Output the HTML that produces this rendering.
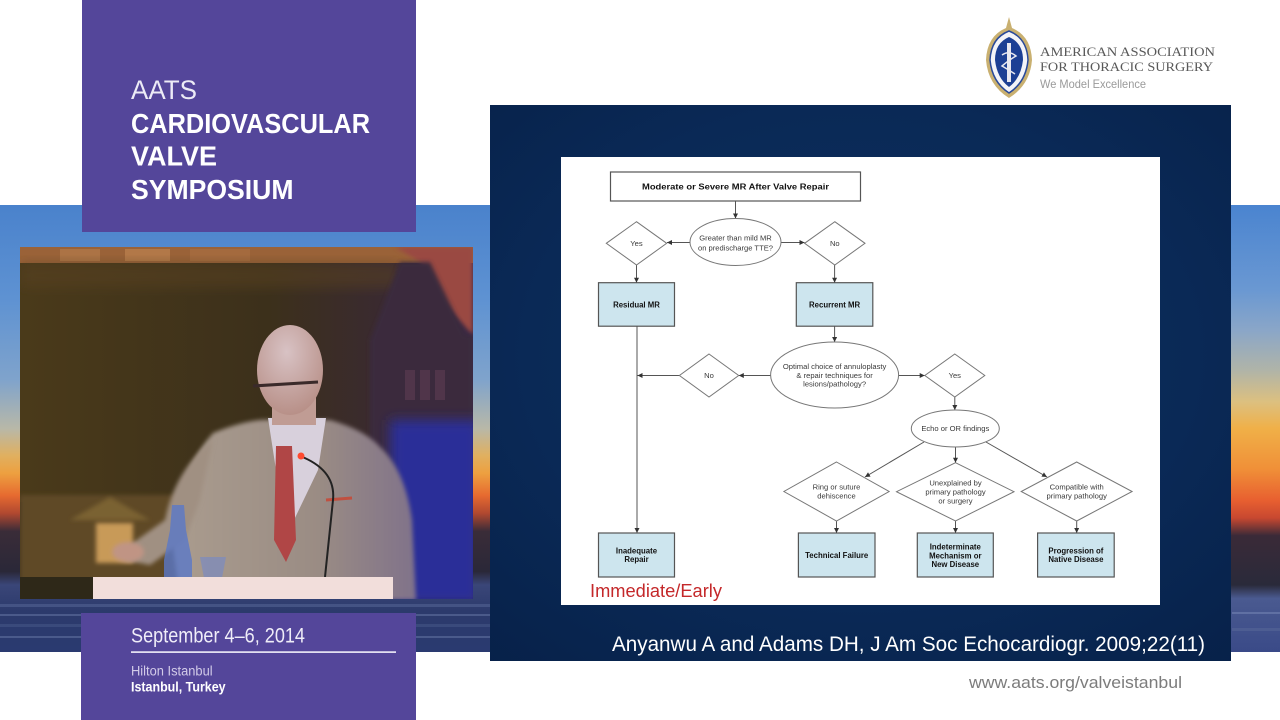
<!DOCTYPE html>
<html><head><meta charset="utf-8">
<style>
html,body{margin:0;padding:0;background:#fff;}
svg{display:block;}
.fc{font-family:"Liberation Sans",Arial,sans-serif;}
</style></head><body>
<svg width="1280" height="720" viewBox="0 0 1280 720" xmlns="http://www.w3.org/2000/svg">
<defs>
 <linearGradient id="skyL" gradientUnits="userSpaceOnUse" x1="0" y1="205" x2="0" y2="652">
  <stop offset="0" stop-color="#4a82cc"/>
  <stop offset="0.21" stop-color="#5e92d2"/>
  <stop offset="0.39" stop-color="#7fa3cc"/>
  <stop offset="0.50" stop-color="#b8b8a8"/>
  <stop offset="0.56" stop-color="#e0b060"/>
  <stop offset="0.60" stop-color="#eda040"/>
  <stop offset="0.65" stop-color="#e66a30"/>
  <stop offset="0.69" stop-color="#b04830"/>
  <stop offset="0.73" stop-color="#3a2c38"/>
  <stop offset="0.82" stop-color="#2a2838"/>
  <stop offset="0.85" stop-color="#3a4678"/>
  <stop offset="0.91" stop-color="#2c3a6c"/>
  <stop offset="1" stop-color="#2a3a70"/>
 </linearGradient>
 <linearGradient id="skyR" gradientUnits="userSpaceOnUse" x1="0" y1="205" x2="0" y2="652">
  <stop offset="0" stop-color="#4a84d0"/>
  <stop offset="0.19" stop-color="#6a98d2"/>
  <stop offset="0.28" stop-color="#8aa6c8"/>
  <stop offset="0.37" stop-color="#b0b4a8"/>
  <stop offset="0.44" stop-color="#dcc080"/>
  <stop offset="0.50" stop-color="#f0b048"/>
  <stop offset="0.59" stop-color="#f09038"/>
  <stop offset="0.66" stop-color="#e86030"/>
  <stop offset="0.70" stop-color="#c84830"/>
  <stop offset="0.74" stop-color="#3a2a38"/>
  <stop offset="0.85" stop-color="#2a2a3a"/>
  <stop offset="0.88" stop-color="#4a5a90"/>
  <stop offset="1" stop-color="#3a4a88"/>
 </linearGradient>
 <radialGradient id="navy" cx="0.5" cy="0.45" r="0.75">
  <stop offset="0" stop-color="#0e315f"/>
  <stop offset="0.6" stop-color="#0a2956"/>
  <stop offset="1" stop-color="#072149"/>
 </radialGradient>
 <linearGradient id="vidbg" x1="0" y1="0" x2="1" y2="0">
  <stop offset="0" stop-color="#4a3a1a"/>
  <stop offset="0.55" stop-color="#3c301b"/>
  <stop offset="0.8" stop-color="#3a2a30"/>
  <stop offset="1" stop-color="#3a2846"/>
 </linearGradient>
 <linearGradient id="suit" x1="0" y1="0" x2="1" y2="0">
  <stop offset="0" stop-color="#aa9c8e"/>
  <stop offset="0.6" stop-color="#9a8c84"/>
  <stop offset="1" stop-color="#80728a"/>
 </linearGradient>
 <radialGradient id="headg" cx="0.45" cy="0.3" r="0.7">
  <stop offset="0" stop-color="#d8c2c4"/>
  <stop offset="1" stop-color="#b89088"/>
 </radialGradient>
 <marker id="ah" viewBox="0 0 10 10" refX="10" refY="5" markerWidth="5" markerHeight="5" orient="auto" markerUnits="userSpaceOnUse">
  <path d="M0,0 L10,5 L0,10 z" fill="#333"/>
 </marker>
 <clipPath id="vid"><rect x="20" y="247" width="453" height="352"/></clipPath>
 <filter id="b2" x="-20%" y="-20%" width="140%" height="140%"><feGaussianBlur stdDeviation="2"/></filter>
 <filter id="b6" x="-30%" y="-30%" width="160%" height="160%"><feGaussianBlur stdDeviation="6"/></filter>
</defs>

<!-- background -->
<rect width="1280" height="720" fill="#ffffff"/>
<rect x="0" y="205" width="640" height="447" fill="url(#skyL)"/>
<rect x="640" y="205" width="640" height="447" fill="url(#skyR)"/>
<g opacity="0.5">
 <rect x="0" y="604" width="640" height="3" fill="#5a6a9a"/>
 <rect x="0" y="614" width="640" height="2" fill="#6a7aa8"/>
 <rect x="0" y="624" width="640" height="3" fill="#4a5a8a"/>
 <rect x="0" y="636" width="640" height="2" fill="#6a7aa8"/>
 <rect x="1232" y="612" width="48" height="2" fill="#7a8ab8"/>
 <rect x="1232" y="628" width="48" height="3" fill="#5a6a9a"/>
</g>

<!-- purple panels -->
<rect x="82" y="0" width="334" height="232" fill="#54469a"/>
<rect x="81" y="613" width="335" height="107" fill="#54469a"/>

<g font-family="'Liberation Sans',Arial,sans-serif" fill="#ffffff">
 <text x="131" y="99" font-size="27" textLength="66" lengthAdjust="spacingAndGlyphs" fill="#ecebf6">AATS</text>
 <text x="131" y="133" font-size="28" font-weight="bold" textLength="239" lengthAdjust="spacingAndGlyphs">CARDIOVASCULAR</text>
 <text x="131" y="165.5" font-size="28" font-weight="bold" textLength="86" lengthAdjust="spacingAndGlyphs">VALVE</text>
 <text x="131" y="199" font-size="28" font-weight="bold" textLength="162.5" lengthAdjust="spacingAndGlyphs">SYMPOSIUM</text>

 <text x="131" y="642.3" font-size="21" textLength="174" lengthAdjust="spacingAndGlyphs" fill="#efedf8">September 4–6, 2014</text>
 <rect x="131" y="651.3" width="265" height="1.6" fill="#f2f0fa"/>
 <text x="131" y="675.7" font-size="13.5" textLength="81.6" lengthAdjust="spacingAndGlyphs" fill="#d2cbe8">Hilton Istanbul</text>
 <text x="131" y="691.7" font-size="14" font-weight="bold" textLength="94.6" lengthAdjust="spacingAndGlyphs">Istanbul, Turkey</text>
</g>

<!-- video -->
<g clip-path="url(#vid)">
 <rect x="20" y="247" width="453" height="352" fill="#3f3219"/>
 <rect x="20" y="262" width="453" height="240" fill="url(#vidbg)"/>
 <rect x="20" y="247" width="453" height="16" fill="#9a6238"/>
 <rect x="60" y="249" width="40" height="12" fill="#b07848" opacity="0.8"/>
 <rect x="125" y="249" width="45" height="12" fill="#b87e4c" opacity="0.8"/>
 <rect x="190" y="249" width="60" height="12" fill="#a86e42" opacity="0.7"/>
 <rect x="20" y="263" width="380" height="25" fill="#5a4222" opacity="0.5" filter="url(#b6)"/>
 <polygon points="395,247 473,247 473,335 440,300 420,262" fill="#9a4a42" filter="url(#b2)"/>
 <polygon points="370,340 400,262 430,262 465,335 473,335 473,600 370,600" fill="#3a2a3c" filter="url(#b2)"/>
 <rect x="405" y="370" width="10" height="30" fill="#5a3a50" opacity="0.7"/>
 <rect x="420" y="370" width="10" height="30" fill="#5a3a50" opacity="0.7"/>
 <rect x="435" y="370" width="10" height="30" fill="#5a3a50" opacity="0.7"/>
 <rect x="390" y="420" width="90" height="185" fill="#2a2e98" filter="url(#b6)"/>
 <!-- lower left building -->
 <rect x="20" y="495" width="175" height="110" fill="#5e4a28" filter="url(#b2)"/>
 <polygon points="70,520 110,497 150,520" fill="#7a6232" filter="url(#b2)"/>
 <rect x="96" y="523" width="37" height="40" fill="#c89a58" filter="url(#b2)"/>
 <rect x="20" y="577" width="80" height="25" fill="#2e2818"/>
 <!-- speaker suit -->
 <path d="M213,433 Q250,418 272,420 L330,420 Q365,430 380,447 Q405,470 412,520 L416,600 L180,600 L172,540 Q180,470 213,433 Z" fill="url(#suit)" filter="url(#b2)"/>
 <path d="M213,440 Q175,470 165,520 L130,545 L125,560 L150,565 L185,540 L200,500 Z" fill="#a09082" filter="url(#b2)"/>
 <ellipse cx="128" cy="552" rx="16" ry="10" fill="#c09484" filter="url(#b2)"/>
 <!-- shirt -->
 <path d="M268,418 L326,418 L318,470 L294,520 L276,470 Z" fill="#d8d0dc"/>
 <!-- tie -->
 <path d="M276,446 L292,446 L296,540 L286,562 L274,540 Z" fill="#b04646"/>
 <!-- head -->
 <rect x="272" y="395" width="44" height="30" fill="#c09c94"/>
 <ellipse cx="290" cy="370" rx="33" ry="45" fill="url(#headg)"/>
 <path d="M253,386 L318,382" stroke="#3a2a2a" stroke-width="3"/>
 <!-- pocket square -->
 <path d="M326,500 L352,498" stroke="#c05040" stroke-width="3"/>
 <!-- mic -->
 <path d="M300,456 Q336,470 333,500 L325,577" stroke="#222" stroke-width="2" fill="none"/>
 <circle cx="301" cy="456" r="3.5" fill="#ff4a30"/>
 <!-- bottle and glass -->
 <path d="M172,505 L184,505 L186,530 L192,560 L192,578 L164,578 L164,560 L170,530 Z" fill="#5a78c8" opacity="0.8"/>
 <path d="M200,557 L226,557 L222,578 L204,578 Z" fill="#7a8ac0" opacity="0.7"/>
 <!-- podium -->
 <rect x="93" y="577" width="300" height="22" fill="#f2dedb"/>
</g>

<!-- logo -->
<g>
 <path d="M1009,17 L1012,28 Q1031,36 1032,60 Q1030,85 1009,98 Q988,85 986,60 Q987,36 1006,28 Z" fill="#c9b070"/>
 <path d="M1009,31 Q1027,38 1028,60 Q1026,82 1009,93 Q992,82 990,60 Q991,38 1009,31Z" fill="#f4f4f8" stroke="#2a4a9a" stroke-width="1.5"/>
 <path d="M1009,37 Q1023,43 1023,60 Q1021,78 1009,87 Q997,78 995,60 Q995,43 1009,37Z" fill="#1c3f94"/>
 <path d="M1007,43 L1011,43 L1011,82 L1007,82Z" fill="#e8e8f0"/>
 <path d="M1002,55 Q1009,50 1016,56 Q1009,60 1002,66 Q1009,70 1015,74" stroke="#e8e8f0" stroke-width="1.5" fill="none"/>
</g>
<g>
 <text x="1040" y="56" font-family="'Liberation Serif',serif" font-size="13" fill="#585858" textLength="175" lengthAdjust="spacingAndGlyphs">AMERICAN ASSOCIATION</text>
 <text x="1040" y="71" font-family="'Liberation Serif',serif" font-size="13" fill="#585858" textLength="173" lengthAdjust="spacingAndGlyphs">FOR THORACIC SURGERY</text>
 <text x="1040" y="88" font-family="'Liberation Sans',sans-serif" font-size="12" fill="#9a9a9a" textLength="106" lengthAdjust="spacingAndGlyphs">We Model Excellence</text>
</g>

<!-- slide -->
<rect x="490" y="105" width="741" height="556" fill="url(#navy)"/>
<rect x="561" y="157" width="599" height="448" fill="#ffffff"/>

<g class="fc" stroke="#555" stroke-width="1" fill="none">
 <!-- connectors -->
 <line x1="735.5" y1="201" x2="735.5" y2="218.5" marker-end="url(#ah)"/>
 <line x1="690" y1="242.5" x2="667" y2="242.5" marker-end="url(#ah)"/>
 <line x1="781" y1="242.5" x2="804.5" y2="242.5" marker-end="url(#ah)"/>
 <line x1="636.5" y1="265" x2="636.5" y2="282.7" marker-end="url(#ah)"/>
 <line x1="834.6" y1="265" x2="834.6" y2="282.7" marker-end="url(#ah)"/>
 <line x1="834.6" y1="326.2" x2="834.6" y2="342" marker-end="url(#ah)"/>
 <line x1="770.5" y1="375.5" x2="738.8" y2="375.5" marker-end="url(#ah)"/>
 <line x1="679.4" y1="375.5" x2="637.5" y2="375.5" marker-end="url(#ah)"/>
 <line x1="898.7" y1="375.5" x2="924.7" y2="375.5" marker-end="url(#ah)"/>
 <line x1="954.8" y1="397" x2="954.8" y2="410" marker-end="url(#ah)"/>
 <line x1="924" y1="442" x2="865" y2="477" marker-end="url(#ah)"/>
 <line x1="955.5" y1="447" x2="955.5" y2="462.7" marker-end="url(#ah)"/>
 <line x1="986" y1="442" x2="1047" y2="477" marker-end="url(#ah)"/>
 <line x1="836.5" y1="521" x2="836.5" y2="533" marker-end="url(#ah)"/>
 <line x1="955.5" y1="521" x2="955.5" y2="533" marker-end="url(#ah)"/>
 <line x1="1076.7" y1="521" x2="1076.7" y2="533" marker-end="url(#ah)"/>
 <line x1="637" y1="326.2" x2="637" y2="533" marker-end="url(#ah)"/>

 <!-- shapes -->
 <rect x="610.5" y="172" width="250" height="29" fill="#fff" stroke="#555" stroke-width="1.2"/>
 <ellipse cx="735.5" cy="242" rx="45.5" ry="23.5" fill="#fff" stroke="#777"/>
 <polygon points="636.5,221.7 666.7,243.3 636.5,265 606.3,243.3" fill="#fff" stroke="#777"/>
 <polygon points="834.8,221.7 865,243.3 834.8,265 804.6,243.3" fill="#fff" stroke="#777"/>
 <rect x="598.5" y="282.7" width="76" height="43.5" fill="#cde5ee" stroke="#555" stroke-width="1.2"/>
 <rect x="796.3" y="282.7" width="76.5" height="43.5" fill="#cde5ee" stroke="#555" stroke-width="1.2"/>
 <ellipse cx="834.6" cy="375" rx="64" ry="33" fill="#fff" stroke="#777"/>
 <polygon points="709,354 738.7,375.5 709,397 679.4,375.5" fill="#fff" stroke="#777"/>
 <polygon points="954.8,354 984.8,375.5 954.8,397 924.8,375.5" fill="#fff" stroke="#777"/>
 <ellipse cx="955.3" cy="428.5" rx="44" ry="18.5" fill="#fff" stroke="#777"/>
 <polygon points="836.5,462 889.1,491.5 836.5,521 783.9,491.5" fill="#fff" stroke="#777"/>
 <polygon points="955.5,462.7 1014,491.7 955.5,521 896.5,491.7" fill="#fff" stroke="#777"/>
 <polygon points="1076.7,462 1132.1,491.5 1076.7,521 1021.2,491.5" fill="#fff" stroke="#777"/>
 <rect x="598.5" y="533" width="76" height="44" fill="#cde5ee" stroke="#555" stroke-width="1.2"/>
 <rect x="798.4" y="533" width="76.6" height="44" fill="#cde5ee" stroke="#555" stroke-width="1.2"/>
 <rect x="917.3" y="533" width="76" height="44" fill="#cde5ee" stroke="#555" stroke-width="1.2"/>
 <rect x="1037.6" y="533" width="76.6" height="44" fill="#cde5ee" stroke="#555" stroke-width="1.2"/>
</g>

<g class="fc" text-anchor="middle" font-size="7.6" fill="#3a3a3a">
 <text x="735.5" y="189.5" font-size="8" font-weight="bold" fill="#111" textLength="187" lengthAdjust="spacingAndGlyphs">Moderate or Severe MR After Valve Repair</text>
 <text x="735.5" y="240.3">Greater than mild MR</text>
 <text x="735.5" y="250.3">on predischarge TTE?</text>
 <text x="636.5" y="246">Yes</text>
 <text x="834.8" y="246">No</text>
 <text x="636.5" y="307.3" font-weight="bold" fill="#111" font-size="7.8">Residual MR</text>
 <text x="834.6" y="307.3" font-weight="bold" fill="#111" font-size="7.8">Recurrent MR</text>
 <text x="834.6" y="369">Optimal choice of annuloplasty</text>
 <text x="834.6" y="378">&amp; repair techniques for</text>
 <text x="834.6" y="386.6">lesions/pathology?</text>
 <text x="709" y="378.2">No</text>
 <text x="954.8" y="378.2">Yes</text>
 <text x="955.3" y="431.2">Echo or OR findings</text>
 <text x="836.5" y="489.6">Ring or suture</text>
 <text x="836.5" y="498.4">dehiscence</text>
 <text x="955.5" y="485.3">Unexplained by</text>
 <text x="955.5" y="494.3">primary pathology</text>
 <text x="955.5" y="503.3">or surgery</text>
 <text x="1076.7" y="489.3">Compatible with</text>
 <text x="1076.7" y="498.3">primary pathology</text>
 <g font-weight="bold" fill="#111" font-size="7.8">
  <text x="636.5" y="553.3">Inadequate</text>
  <text x="636.5" y="562.2">Repair</text>
  <text x="836.7" y="557.8">Technical Failure</text>
  <text x="955.3" y="549.4">Indeterminate</text>
  <text x="955.3" y="558.3">Mechanism or</text>
  <text x="955.3" y="567.1">New Disease</text>
  <text x="1075.9" y="553.3">Progression of</text>
  <text x="1075.9" y="562.2">Native Disease</text>
 </g>
</g>
<text x="590" y="597" font-family="'Liberation Sans',Arial,sans-serif" font-size="18" fill="#c4282a" textLength="132" lengthAdjust="spacingAndGlyphs">Immediate/Early</text>

<!-- citation & url -->
<text x="612" y="651" font-family="'Liberation Sans',Arial,sans-serif" font-size="21" fill="#ffffff" textLength="593" lengthAdjust="spacingAndGlyphs">Anyanwu A and Adams DH, J Am Soc Echocardiogr. 2009;22(11)</text>
<text x="969" y="688" font-family="'Liberation Sans',Arial,sans-serif" font-size="16.5" fill="#7c7c7c" textLength="213" lengthAdjust="spacingAndGlyphs">www.aats.org/valveistanbul</text>
</svg>
</body></html>
